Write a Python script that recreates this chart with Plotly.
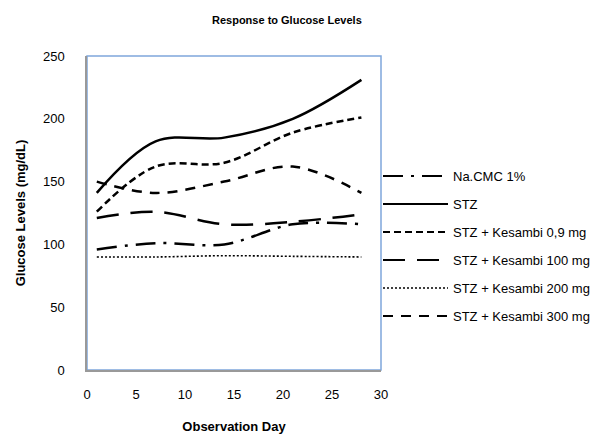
import plotly.graph_objects as go

days = [1, 7, 14, 21, 28]
na_cmc = [96, 101, 100, 116, 116]
stz = [141, 182, 185, 200, 231]
kes_09 = [126, 162, 165, 189, 201]
kes_100 = [121, 126, 116, 118, 124]
kes_200 = [90, 90, 91, 90.5, 90]
kes_300 = [150, 141, 150, 162, 141]

series_names = ["Na.CMC 1%", "STZ", "STZ + Kesambi 0,9 mg", "STZ + Kesambi 100 mg",
                "STZ + Kesambi 200 mg", "STZ + Kesambi 300 mg"]
series_vals = [na_cmc, stz, kes_09, kes_100, kes_200, kes_300]
dashes = ["20px,8px,3px,8px", "solid", "7px,4px", "22px,12px", "2px,2px", "10px,8px"]
widths = [2.5, 2.5, 2.5, 2.5, 1.6, 2.5]

x_ticks = [0, 5, 10, 15, 20, 25, 30]
y_ticks = [0, 50, 100, 150, 200, 250]

FONT = "Liberation Sans, Arial, sans-serif"

fig = go.Figure()
for name, vals, d, w in zip(series_names, series_vals, dashes, widths):
    fig.add_trace(go.Scatter(
        x=days, y=vals, name=name, mode="lines",
        line=dict(color="black", width=w, dash=d, shape="spline", smoothing=1),
        showlegend=False, hoverinfo="x+y+name"))

# plot area geometry in pixels (for legend placement)
L, R, T, B = 87, 381, 56, 370
W, H = R - L, B - T

def px_x(p):
    return (p - L) / W

def px_y(p):
    return (B - p) / H

shapes = [dict(type="rect", xref="paper", yref="paper", x0=0, x1=1, y0=0, y1=1,
               line=dict(color="#7FA7DB", width=1.5), layer="below")]
annotations = []
leg_y = [176, 204, 232, 260, 288, 316]
for name, d, w, yy in zip(series_names, dashes, widths, leg_y):
    shapes.append(dict(type="line", xref="paper", yref="paper",
                       x0=px_x(383), x1=px_x(448), y0=px_y(yy), y1=px_y(yy),
                       line=dict(color="black", width=w if w < 2 else 2, dash=d)))
    annotations.append(dict(xref="paper", yref="paper", x=px_x(451), y=px_y(yy),
                            xanchor="left", yanchor="middle", text=name, showarrow=False,
                            font=dict(family=FONT, size=13, color="black")))

annotations.append(dict(xref="paper", yref="paper", x=px_x(287), y=px_y(20),
                        xanchor="center", yanchor="middle",
                        text="<b>Response to Glucose Levels</b>", showarrow=False,
                        font=dict(family=FONT, size=11, color="black")))

fig.update_layout(
    width=605, height=434,
    margin=dict(l=L, r=605 - R, t=T, b=434 - B),
    paper_bgcolor="white", plot_bgcolor="white",
    font=dict(family=FONT, size=13, color="black"),
    shapes=shapes, annotations=annotations,
    showlegend=False,
    xaxis=dict(range=[0, 30], tickvals=x_ticks, ticktext=[str(v) for v in x_ticks],
               showgrid=False, zeroline=False, showline=True, linecolor="#999999",
               linewidth=1.5, ticks="", ticklabelstandoff=12, automargin=False,
               title=dict(text="<b>Observation Day</b>", font=dict(size=13), standoff=31)),
    yaxis=dict(range=[0, 250], tickvals=y_ticks, ticktext=[str(v) for v in y_ticks],
               showgrid=False, zeroline=False, showline=True, linecolor="#999999",
               linewidth=1.5, ticks="", ticklabelstandoff=18, automargin=False,
               title=dict(text="<b>Glucose Levels (mg/dL)</b>", font=dict(size=13), standoff=14)),
)

fig.write_html("out.html")
